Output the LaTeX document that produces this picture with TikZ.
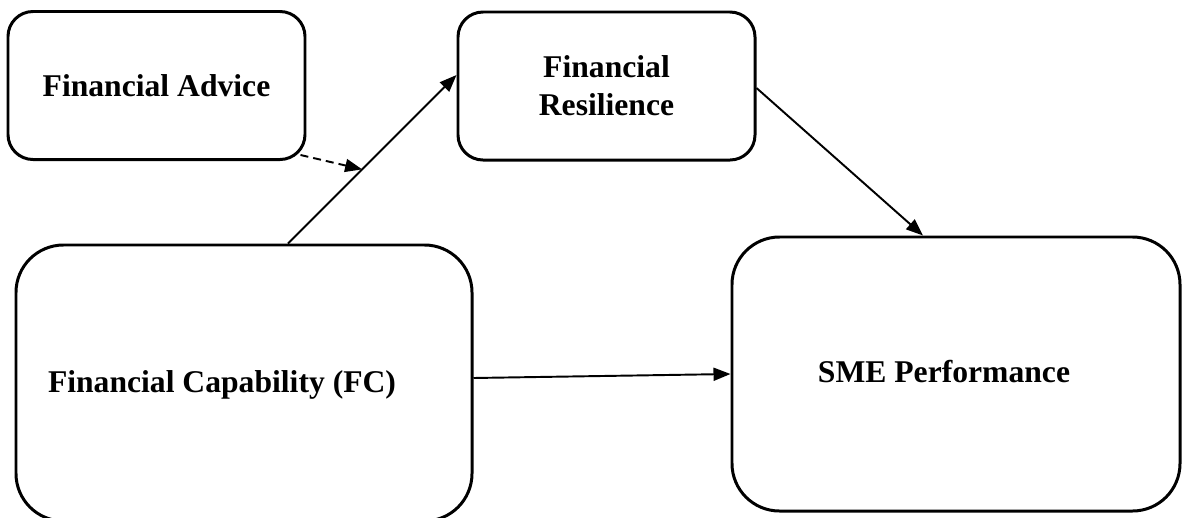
\documentclass[tikz,border=0pt]{standalone}
\usepackage{fontspec}
\setmainfont{Liberation Serif}
\usetikzlibrary{arrows.meta,calc}

\begin{document}
\begin{tikzpicture}[x=0.2mm,y=-0.2mm,
		smallbox/.style={draw,line width=1.7pt,rounded corners=5mm,minimum width=59.4mm,minimum height=29.6mm,align=center,font=\fontsize{18}{21.6}\selectfont\bfseries},
		bigbox/.style={draw,line width=1.7pt,rounded corners=9.5mm},
		label/.style={font=\fontsize{18}{21.6}\selectfont\bfseries},
		link/.style={line width=1.1pt,-{Triangle[length=3.4mm,width=2.6mm]}},
		dashlink/.style={link,dash pattern=on 1.6mm off 1mm}]
			% Frame
			\useasboundingbox (0,0) rectangle (1182,517);
			
			% Boxes
			\node[smallbox] (fa) at (156.5,85.5) {Financial Advice};
			\node[smallbox] (fr) at (606.5,86) {Financial\\Resilience};
			\node[bigbox,minimum width=91.2mm,minimum height=55.2mm] (fc) at (244,383) {};
			\node[bigbox,minimum width=89.6mm,minimum height=54.8mm] (sme) at (956,374) {};
			
			% Labels
			\node[label] (fclabel) at (222,385) {Financial Capability (FC)};
			\node[label] (smelabel) at (944,372) {SME Performance};
			
			% Connectors
			\coordinate (fcup) at ($(fc.north)+(44,0)$);
			\coordinate (frin) at ($(fr.west)+(0,-11)$);
			\coordinate (mid) at ($(fcup)!0.44!(frin)$);
			\draw[link] (fcup) -- (frin);
			\draw[dashlink] ($(fa.south east)+(-6,-6)$) -- (mid);
			\draw[link] ($(fr.east)+(0,2)$) -- ($(sme.north)+(-33,0)$);
			\draw[link] ($(fc.east)+(0,-5)$) -- (sme.west);
			
\end{tikzpicture}
\end{document}
